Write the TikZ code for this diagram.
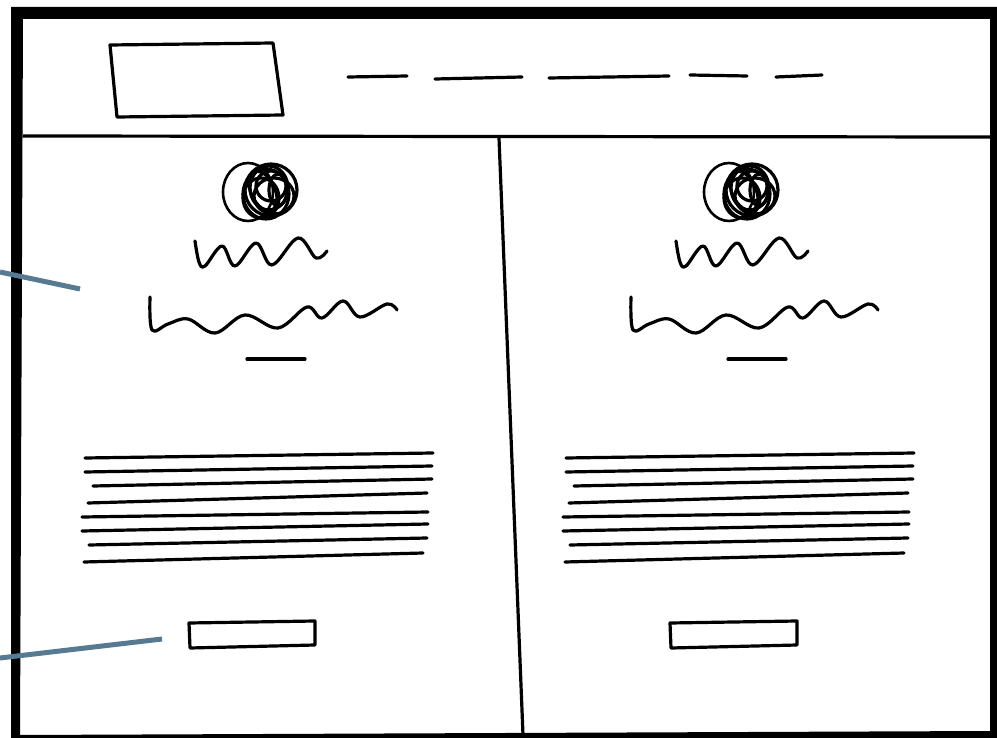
\documentclass[tikz,border=0pt]{standalone}
\tikzset{
  ink/.style={line width=3.2pt, line cap=round, line join=round, black},
  note/.style={line width=5pt, draw={rgb,255:red,86;green,122;blue,146}},
  wave/.style={ink, smooth, tension=0.6},
}
\begin{document}
\begin{tikzpicture}[x=1pt,y=-1pt]
\useasboundingbox (0,0) rectangle (997,738);
\fill[white] (0,0) rectangle (997,738);
% outer frame
\fill[black, even odd rule] (11,7) -- (997,7) -- (997,738) -- (11,738) -- cycle
  (23,19) -- (990,19) -- (990,731) -- (20,735) -- cycle;
% header separator
\draw[line width=3.2pt] (23,136) -- (990,137);
% logo
\draw[ink] (110,45) -- (273,43) -- (283,115) -- (117,117) -- cycle;
% nav dashes
\draw[ink] (348,77) -- (407,76);
\draw[ink] (435,79) -- (522,77);
\draw[ink] (549,78) -- (669,76);
\draw[ink] (690,75) -- (747,76);
\draw[ink] (776,77) -- (822,75);
% column divider
\draw[ink] (499,138) -- (523,735);
% columns
\foreach \dx in {0,481} {
\begin{scope}[xshift=\dx]
  % avatar scribble
  \draw[ink, line width=2.6pt] (248,192) ellipse [x radius=25, y radius=29];
  \draw[ink] (271,190) ellipse [x radius=26, y radius=26];
  \draw[ink] (266,194) ellipse [x radius=23, y radius=25];
  \draw[ink] (269,188) ellipse [x radius=19, y radius=22];
  \draw[ink, rotate around={25:(263,191)}] (263,191) ellipse [x radius=12, y radius=21];
  \draw[ink] (274,196) ellipse [x radius=20, y radius=18];
  \draw[ink] (261,198) ellipse [x radius=18, y radius=20];
  \draw[ink] (271,186) ellipse [x radius=15, y radius=15];
  \draw[ink] (278,190) ellipse [x radius=9, y radius=16];
  % name scribble
  \draw[wave] plot coordinates {(195,241) (199,262) (205,266) (222,246) (235,266) (256,243) (272,265) (298,238) (316,258) (327,251)};
  % title scribble
  \draw[wave] plot coordinates {(150,297) (152,330) (168,324) (188,319) (215,333) (245,315) (278,328) (307,307) (322,318) (343,301) (360,317) (387,304) (397,310)};
  % short rule
  \draw[ink] (247,359) -- (305,359);
  % text lines
  \draw[ink] (85,458) -- (433,453);
  \draw[ink] (85,472) -- (432,466);
  \draw[ink] (93,486) -- (432,479);
  \draw[ink] (88,503) -- (427,493);
  \draw[ink] (82,517) -- (428,512);
  \draw[ink] (82,531) -- (428,524);
  \draw[ink] (89,545) -- (427,538);
  \draw[ink] (84,562) -- (423,553);
\end{scope}
}
% buttons
\draw[ink] (189,623) -- (315,621) -- (315,645) -- (190,648) -- cycle;
\draw[ink] (670,623) -- (797,621) -- (797,645) -- (671,648) -- cycle;
% annotation pointers
\coordinate (n1a) at (0,272);
\coordinate (n1b) at (80,289);
\coordinate (n2a) at (0,658);
\coordinate (n2b) at (162,639);
\draw[note] (n1a) -- (n1b);
\draw[note] (n2a) -- (n2b);
\end{tikzpicture}
\end{document}
